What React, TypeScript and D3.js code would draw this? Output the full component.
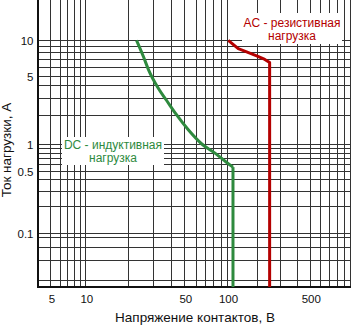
import React from "react";
import * as d3 from "d3";

// ---------- data ----------
const xTickLabels = [5, 10, 50, 100, 500];
const yTickLabels = [10, 5, 1, 0.5, 0.1];
const xGridValues = [5, 6, 7, 8, 9, 10, 20, 30, 40, 50, 60, 70, 80, 90, 100, 200, 300, 400, 500, 600, 700, 800, 900, 1000];
const yGridValues = [10, 9, 8, 7, 6, 5, 4, 3, 2, 1, 0.9, 0.8, 0.7, 0.6, 0.5, 0.4, 0.3, 0.2, 0.1, 0.09, 0.07, 0.05, 0.03];

// AC - resistive load
const acVoltage = [103, 130, 158, 200, 230, 250, 250];
const acCurrent = [10, 8.5, 8, 7.4, 6.9, 6.5, 0.025];
// DC - inductive load
const dcVoltage = [23, 25.7, 28, 32.5, 37.5, 44, 53.3, 66.4, 82.3, 99.5, 115, 115];
const dcCurrent = [10, 7.3, 5.6, 3.8, 2.8, 2.0, 1.4, 1.0, 0.79, 0.62, 0.55, 0.025];

const xTitle = "Напряжение контактов, В";
const yTitle = "Ток нагрузки, А";
const acLabel = ["AC - резистивная", "нагрузка"];
const dcLabel = ["DC - индуктивная", "нагрузка"];

// ---------- layout ----------
const W = 351;
const H = 326;
const L = 38;
const R = 350;
const B = 287;
const T = 0;
const FONT = "'Liberation Sans', Arial, sans-serif";
const GRID = "#333333";
const RED = "#b40000";
const GREEN = "#2e8a3e";

// piecewise log scales (the original grid is not uniformly spaced)
const x = d3.scaleLog().domain([3.9, 10, 100, 200, 1000]).range([L, 85.3, 227, 256.7, R]);
const y = d3.scaleLog().domain([0.025, 0.1, 1, 5, 10, 22]).range([B, 233, 144, 76, 40.3, T]);

const snap = (v: number) => Math.round(v) + 0.5;

const straight = d3
  .line<[number, number]>()
  .x((d) => x(d[0]))
  .y((d) => y(d[1]));
const smooth = d3
  .line<[number, number]>()
  .x((d) => x(d[0]))
  .y((d) => y(d[1]))
  .curve(d3.curveMonotoneX);

const acPts = acVoltage.map((v, i) => [v, acCurrent[i]] as [number, number]);
const dcPts = dcVoltage.map((v, i) => [v, dcCurrent[i]] as [number, number]);
const dcCurve = dcPts.slice(0, dcPts.length - 1);
const dcDrop = dcPts.slice(dcPts.length - 2);

const fmt = (v: number) => String(v);

export default function App() {
  return (
    <svg
      width={W}
      height={H}
      viewBox={`0 0 ${W} ${H}`}
      style={{ position: "absolute", left: 0, top: 0, background: "#fff" }}
    >
      <rect x={0} y={0} width={W} height={H} fill="#fff" />
      {/* grid */}
      <g shapeRendering="crispEdges" stroke={GRID} strokeWidth={1}>
        {xGridValues.map((v) => (
          <line key={"gx" + v} x1={snap(x(v))} x2={snap(x(v))} y1={T} y2={B} />
        ))}
        {yGridValues.map((v) => (
          <line key={"gy" + v} x1={L} x2={R} y1={snap(y(v))} y2={snap(y(v))} />
        ))}
      </g>
      {/* label backgrounds */}
      <rect x={242} y={13} width={100} height={31} fill="#fff" />
      <rect x={62} y={137} width={102} height={28} fill="#fff" />
      {/* axes */}
      <g shapeRendering="crispEdges" stroke="#111" strokeWidth={2}>
        <line x1={L} x2={L} y1={T} y2={B + 1} />
        <line x1={L} x2={R + 1} y1={B} y2={B} />
      </g>
      {/* curves */}
      <path d={smooth(dcCurve) || ""} fill="none" stroke={GREEN} strokeWidth={3} strokeLinejoin="round" />
      <path d={straight(dcDrop) || ""} fill="none" stroke={GREEN} strokeWidth={3} strokeLinejoin="round" />
      <path d={straight(acPts) || ""} fill="none" stroke={RED} strokeWidth={3} strokeLinejoin="round" />
      {/* curve labels */}
      <g fontFamily={FONT} fontSize={12} textAnchor="middle">
        <text x={292} y={27} fill={RED}>{acLabel[0]}</text>
        <text x={292} y={40} fill={RED}>{acLabel[1]}</text>
        <text x={113} y={148.5} fill={GREEN}>{dcLabel[0]}</text>
        <text x={113} y={161.5} fill={GREEN}>{dcLabel[1]}</text>
      </g>
      {/* tick labels */}
      <g fontFamily={FONT} fontSize={11.5} fill="#111">
        {xTickLabels.map((v) => (
          <text key={"tx" + v} x={x(v) + 1.5} y={303} textAnchor="middle">
            {fmt(v)}
          </text>
        ))}
        {yTickLabels.map((v) => (
          <text key={"ty" + v} x={33.5} y={y(v) + 5} textAnchor="end">
            {fmt(v)}
          </text>
        ))}
      </g>
      {/* axis titles */}
      <text x={195} y={322} fontFamily={FONT} fontSize={13.5} fill="#111" textAnchor="middle">
        {xTitle}
      </text>
      <text
        transform={`translate(11,150) rotate(-90)`}
        fontFamily={FONT}
        fontSize={13.5}
        fill="#111"
        textAnchor="middle"
      >
        {yTitle}
      </text>
    </svg>
  );
}
